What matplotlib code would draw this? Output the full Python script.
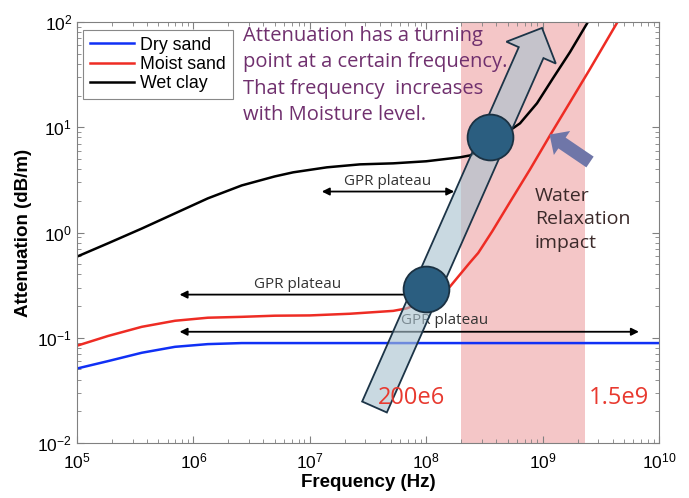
import matplotlib
matplotlib.use("Agg")
import matplotlib.pyplot as plt
import matplotlib.patches as pat
from matplotlib.transforms import Affine2D

plt.rcParams["mathtext.default"] = "regular"

# data (frequency in Hz, attenuation in dB/m)
dry_f = [1e5, 1.85e5, 3.6e5, 6.95e5, 1.33e6, 2.6e6, 1e7, 1e8, 1e9, 1e10]
dry_a = [0.051, 0.060, 0.072, 0.082, 0.087, 0.089, 0.089, 0.089, 0.089, 0.089]

moist_f = [1e5, 1.85e5, 3.6e5, 6.95e5, 1.33e6, 2.6e6, 5e6, 1e7, 2.2e7, 5.2e7, 6.8e7,
           1e8, 1.6e8, 2.38e8, 2.8e8, 3.7e8, 5.25e8, 7.8e8, 1.16e9, 1.72e9, 2.55e9,
           4.4e9, 5e9]
moist_a = [0.084, 0.104, 0.127, 0.145, 0.155, 0.158, 0.162, 0.163, 0.169, 0.18, 0.19,
           0.225, 0.306, 0.52, 0.64, 1.03, 1.95, 3.98, 8.4, 17.3, 35.7,
           100, 125]

clay_f = [1e5, 1.85e5, 3.6e5, 6.95e5, 1.33e6, 2.6e6, 5e6, 7.2e6, 1.4e7, 2.7e7, 5.2e7,
          1e8, 1.95e8, 2.4e8, 3.5e8, 5.25e8, 6.4e8, 8.95e8, 1.23e9, 1.72e9, 2.45e9, 2.7e9]
clay_a = [0.59, 0.79, 1.09, 1.52, 2.11, 2.80, 3.41, 3.73, 4.16, 4.44, 4.54,
          4.75, 5.18, 5.41, 7.0, 9.35, 10.9, 16.9, 29.3, 51.8, 100, 125]

turn_f = [1.0e8, 3.5e8]
turn_a = [0.29, 8.0]

band = [2e8, 2.3e9]

W, H = 689, 498
fig = plt.figure(figsize=(W / 100, H / 100), dpi=100)
ax = fig.add_axes([77 / W, 1 - 443 / H, 582 / W, 421 / H])
# pixel coordinates (origin top-left) for the hand-drawn shapes
px = Affine2D().scale(1 / W, -1 / H).translate(0, 1) + fig.transFigure

ax.set_xscale("log")
ax.set_yscale("log")
ax.set_xlim(1e5, 1e10)
ax.set_ylim(1e-2, 1e2)

ax.axvspan(band[0], band[1], color="#F4C6C7", lw=0, zorder=0)

ax.plot(dry_f, dry_a, color="#1030F5", lw=1.8, label="Dry sand", zorder=2)
ax.plot(moist_f, moist_a, color="#EE2C24", lw=1.8, label="Moist sand", zorder=2)
ax.plot(clay_f, clay_a, color="black", lw=1.8, label="Wet clay", zorder=2)

leg = ax.legend(loc="upper left", bbox_to_anchor=(0.01, 0.982), borderaxespad=0,
                labelspacing=0.12, handlelength=2.5, handletextpad=0.3,
                borderpad=0.4, fancybox=False, framealpha=1, edgecolor="#888888",
                prop={"family": "Liberation Sans", "size": 12.8})
leg.get_frame().set_linewidth(0.8)
leg.set_zorder(8)

# GPR plateau arrows
akw = dict(arrowstyle="<|-|>", color="black", lw=1.3, mutation_scale=11)
ax.annotate("", xy=(1.2e7, 2.45), xytext=(1.84e8, 2.45), arrowprops=akw, zorder=3)
ax.annotate("", xy=(7.2e5, 0.257), xytext=(8.5e7, 0.257),
            arrowprops=dict(arrowstyle="-|>", color="black", lw=1.3, mutation_scale=11), zorder=3)
ax.annotate("", xy=(7.2e5, 0.114), xytext=(7.1e9, 0.114), arrowprops=akw, zorder=3)

tkw = dict(fontsize=11, color="#333333", family="Open Sans", ha="center", va="center", zorder=3)
ax.text(4.7e7, 3.06, "GPR plateau", **tkw)
ax.text(7.9e6, 0.32, "GPR plateau", **tkw)
ax.text(1.45e8, 0.145, "GPR plateau", **tkw)

# big trend arrow
arr = dict(x=374.5, y=407, dx=167.5 * 0.935, dy=-379 * 0.935, width=27, head_width=54,
           head_length=27, transform=px, clip_on=False)
ax.add_patch(pat.FancyArrow(**arr, facecolor="#A9C2CF", alpha=0.62, edgecolor="none", zorder=4))
ax.add_patch(pat.FancyArrow(**arr, fill=False, edgecolor="#1C3447", lw=1.3, zorder=4.1))

ax.plot(turn_f, turn_a, "o", ms=33, mfc="#2B5E80", mec="#1B3142", mew=1.3, zorder=6)

# water relaxation pointer
ax.add_patch(pat.FancyArrow(590, 162, -28, -19, width=13, head_width=29, head_length=15,
                            transform=px, clip_on=False, facecolor="#6F76A8",
                            edgecolor="none", zorder=4))

fig.text(243 / W, 1 - 26 / H,
         "Attenuation has a turning\npoint at a certain frequency.\n"
         "That frequency  increases\nwith Moisture level.",
         fontsize=14.5, color="#70306E", family="Open Sans", ha="left", va="top",
         linespacing=1.42, zorder=7)
fig.text(535 / W, 1 - 187 / H, "Water\nRelaxation\nimpact", fontsize=14,
         color="#3B2A2A", family="Open Sans", ha="left", va="top", linespacing=1.38, zorder=7)

ax.text(7.55e7, 0.0268, "200e6", fontsize=17, color="#E8392F", family="Open Sans",
        ha="center", va="center", zorder=5)
ax.text(4.5e9, 0.0268, "1.5e9", fontsize=17, color="#E8392F", family="Open Sans",
        ha="center", va="center", zorder=5)

for sp in ax.spines.values():
    sp.set_color("#808080")
ax.tick_params(which="both", direction="in", top=True, right=True, colors="#808080",
               labelcolor="black", labelsize=12.5)
ax.tick_params(which="major", length=5)
ax.tick_params(which="minor", length=3)
ax.tick_params(axis="x", pad=6)
for lab in ax.get_xticklabels() + ax.get_yticklabels():
    lab.set_family("Liberation Sans")

ax.set_xlabel("Frequency (Hz)", fontsize=13.5, fontweight="bold", family="Liberation Sans",
              labelpad=2)
ax.set_ylabel("Attenuation (dB/m)", fontsize=13.5, fontweight="bold", family="Liberation Sans",
              labelpad=4)

fig.savefig("out.png", dpi=100)
